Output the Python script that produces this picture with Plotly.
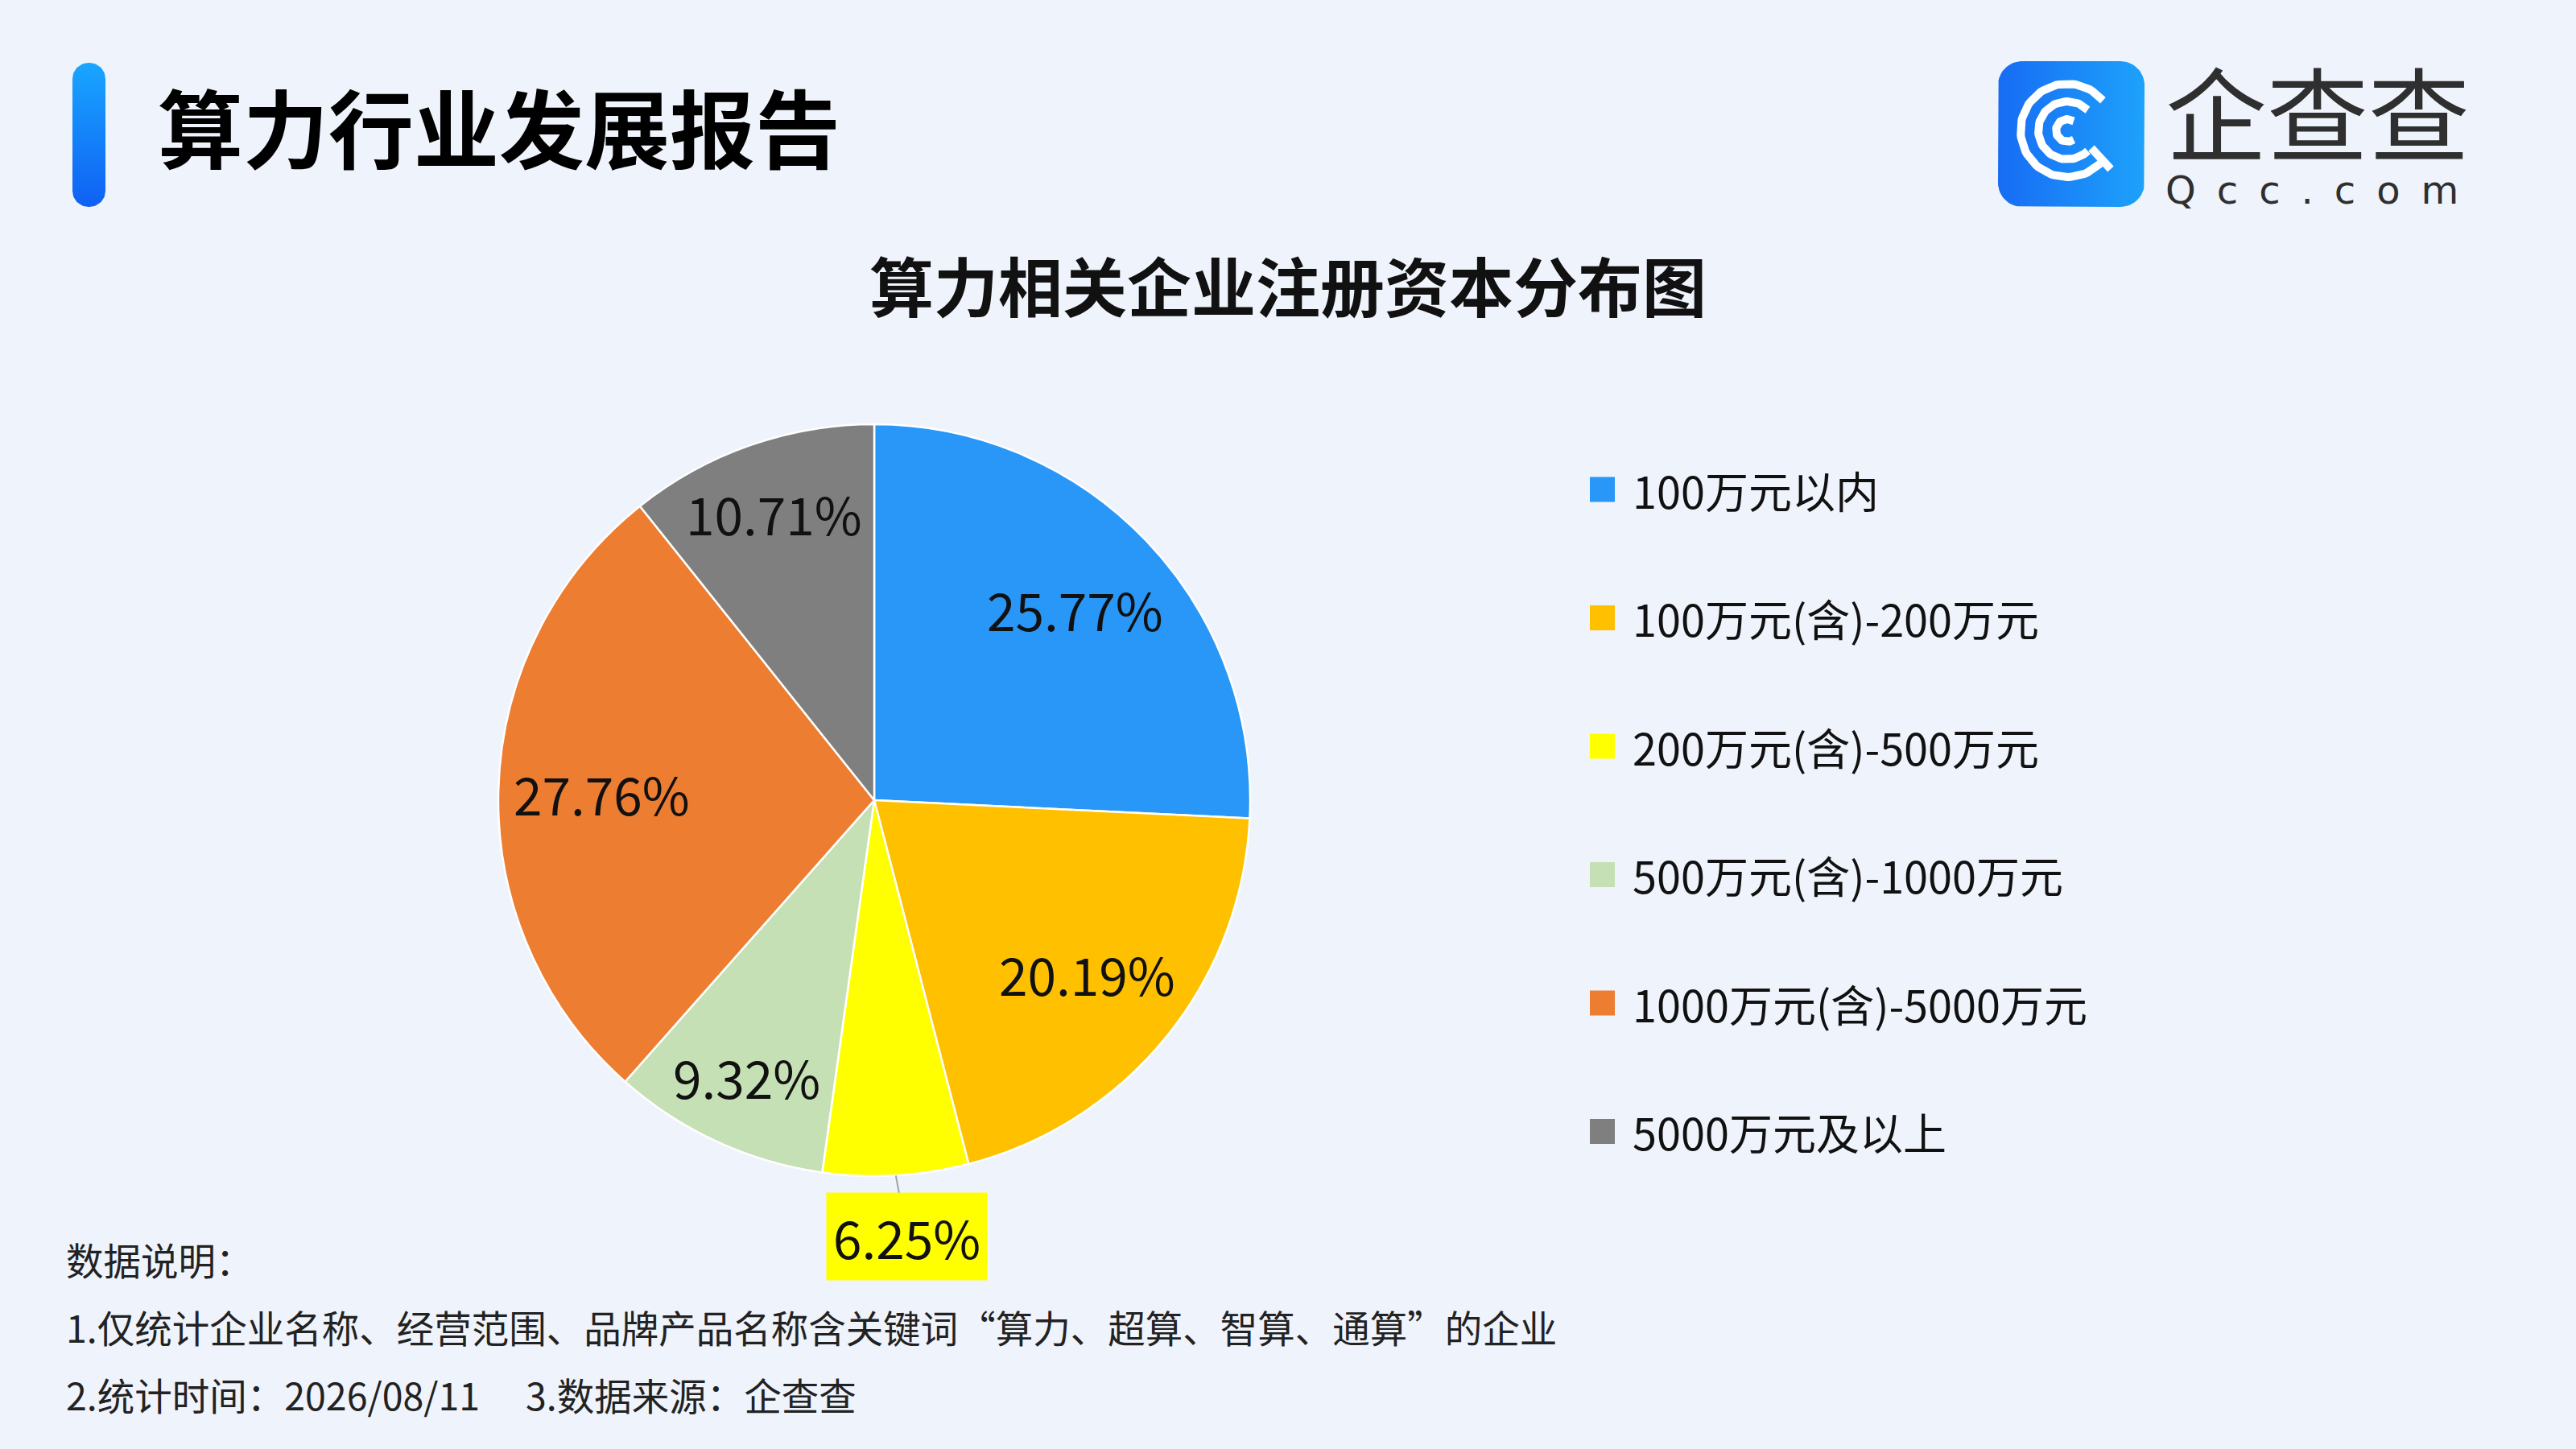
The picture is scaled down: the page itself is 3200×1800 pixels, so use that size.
import numpy as np
import plotly.graph_objects as go

#Data
categories = ["100万元以内", "100万元(含)-200万元", "200万元(含)-500万元",
              "500万元(含)-1000万元", "1000万元(含)-5000万元", "5000万元及以上"]
shares = [25.77, 20.19, 6.25, 9.32, 27.76, 10.71]
colors = ["#2997f7", "#ffc000", "#ffff00", "#c5e0b4", "#ed7d31", "#7f7f7f"]

title_text = "算力行业发展报告"
chart_title = "算力相关企业注册资本分布图"
notes = ["数据说明：",
         "1.仅统计企业名称、经营范围、品牌产品名称含关键词“算力、超算、智算、通算”的企业",
         "2.统计时间：2026/08/11　 3.数据来源：企查查"]

W, H = 3200, 1800
FONT = "Noto Sans CJK SC"
LABEL_SIZE = 64

#Pie geometry (pixels)
cx, cy, r = 1086, 994, 467

fig = go.Figure()

#Helper: rounded rectangle outline
def rounded_rect(x0, y0, x1, y1, rad, n=16):
    xs, ys = [], []
    corners = [(x1 - rad, y0 + rad, -90, 0), (x1 - rad, y1 - rad, 0, 90),
               (x0 + rad, y1 - rad, 90, 180), (x0 + rad, y0 + rad, 180, 270)]
    for ccx, ccy, a0, a1 in corners:
        t = np.radians(np.linspace(a0, a1, n))
        xs += list(ccx + rad * np.cos(t))
        ys += list(ccy + rad * np.sin(t))
    return xs + [xs[0]], ys + [ys[0]]

#Blue bar beside the title
bx, by = rounded_rect(90, 78, 131, 257, 20)
fig.add_trace(go.Scatter(x=bx, y=by, fill="toself", mode="lines", line=dict(width=0),
                         fillgradient=dict(type="vertical",
                                           colorscale=[[0, "#0f60f4"], [1, "#19a6ff"]]),
                         hoverinfo="skip", showlegend=False))

#Logo square
lx, ly = rounded_rect(2482, 76, 2664, 257, 30)
fig.add_trace(go.Scatter(x=lx, y=ly, fill="toself", mode="lines", line=dict(width=0),
                         fillgradient=dict(type="horizontal",
                                           colorscale=[[0, "#176cf4"], [1, "#1da2fb"]]),
                         hoverinfo="skip", showlegend=False))

#Logo rings
ix, iy = 2568, 162
for rad, gap in [(58, 40), (36, 45), (14, 55)]:
    t = np.radians(np.linspace(gap, 360 - gap, 80))
    fig.add_trace(go.Scatter(x=ix + rad * np.cos(t), y=iy - rad * np.sin(t), mode="lines",
                             line=dict(color="white", width=10), hoverinfo="skip",
                             showlegend=False))
fig.add_trace(go.Scatter(x=[ix + 30, ix + 54], y=[iy + 22, iy + 48], mode="lines",
                         line=dict(color="white", width=10), hoverinfo="skip",
                         showlegend=False))

#Pie
fig.add_trace(go.Pie(
    labels=categories, values=shares, sort=False, direction="clockwise", rotation=0,
    marker=dict(colors=colors, line=dict(color="white", width=2.5)),
    textinfo="none",
    domain=dict(x=[(cx - r) / W, (cx + r) / W], y=[1 - (cy + r) / H, 1 - (cy - r) / H]),
    hoverinfo="label+percent", showlegend=False,
))

annotations = []
shapes = []

#Data labels: inside near the rim, small slices outside in a yellow box
total = sum(shares)
cum = 0
for v in shares:
    mid = 2 * np.pi * (cum + v / 2) / total
    cum += v
    txt = f"{v:.2f}%"
    s, c = np.sin(mid), np.cos(mid)
    if v > 7:
        half_w = 0.56 * LABEL_SIZE * len(txt) / 2
        half_h = 35
        dist = r - (abs(s) * half_w + abs(c) * half_h) - 20
        annotations.append(dict(x=cx + dist * s, y=cy - dist * c, xref="x", yref="y",
                                text=txt, showarrow=False,
                                font=dict(family=FONT, size=LABEL_SIZE, color="#111111")))
    else:
        annotations.append(dict(x=cx + r * s, y=cy - r * c, xref="x", yref="y", text=txt,
                                showarrow=True, arrowhead=0, arrowwidth=2,
                                arrowcolor="#a0a4ab", ax=14, ay=76, bgcolor="#ffff00",
                                borderpad=8,
                                font=dict(family=FONT, size=LABEL_SIZE, color="#111111")))

#Legend
for i, (lab, col) in enumerate(zip(categories, colors)):
    yc = 608 + i * 159.5
    shapes.append(dict(type="rect", xref="x", yref="y", x0=1975, x1=2006,
                       y0=yc - 15.5, y1=yc + 15.5, fillcolor=col, line=dict(width=0)))
    annotations.append(dict(x=2026, y=yc, xref="x", yref="y", text=lab, showarrow=False,
                            xanchor="left", yanchor="middle",
                            font=dict(family=FONT, size=54, color="#111111")))

#Titles
annotations.append(dict(x=194, y=155, xref="x", yref="y", text=f"<b>{title_text}</b>",
                        showarrow=False, xanchor="left", yanchor="middle",
                        font=dict(family=FONT, size=106, color="#000000")))
annotations.append(dict(x=1600, y=352, xref="x", yref="y", text=f"<b>{chart_title}</b>",
                        showarrow=False, xanchor="center", yanchor="middle",
                        font=dict(family=FONT, size=80, color="#111111")))

#Logo text: brand name and domain in one block
logo_text = ("<span style='font-size:126px;font-family:Noto Sans CJK SC'>企查查</span><br>"
             "<span style='letter-spacing:26px'>Qcc.com</span>")
annotations.append(dict(x=2688, y=154, xref="x", yref="y", text=logo_text, showarrow=False,
                        xanchor="left", yanchor="middle", align="left",
                        font=dict(family="DejaVu Sans", size=48, color="#2f2f2f")))

#Notes
for k, line in enumerate(notes):
    annotations.append(dict(x=80, y=1563 + k * 84, xref="x", yref="y", text=line,
                            showarrow=False, xanchor="left", yanchor="middle",
                            font=dict(family=FONT, size=46.5, color="#222222")))

fig.update_layout(
    width=W, height=H,
    margin=dict(l=0, r=0, t=0, b=0),
    paper_bgcolor="#eff3fb",
    plot_bgcolor="rgba(0,0,0,0)",
    xaxis=dict(range=[0, W], visible=False, fixedrange=True),
    yaxis=dict(range=[H, 0], visible=False, fixedrange=True),
    shapes=shapes,
    annotations=annotations,
)

fig.write_html("out.html", config={"displayModeBar": False},
               post_script="document.body.style.margin='0px';")
